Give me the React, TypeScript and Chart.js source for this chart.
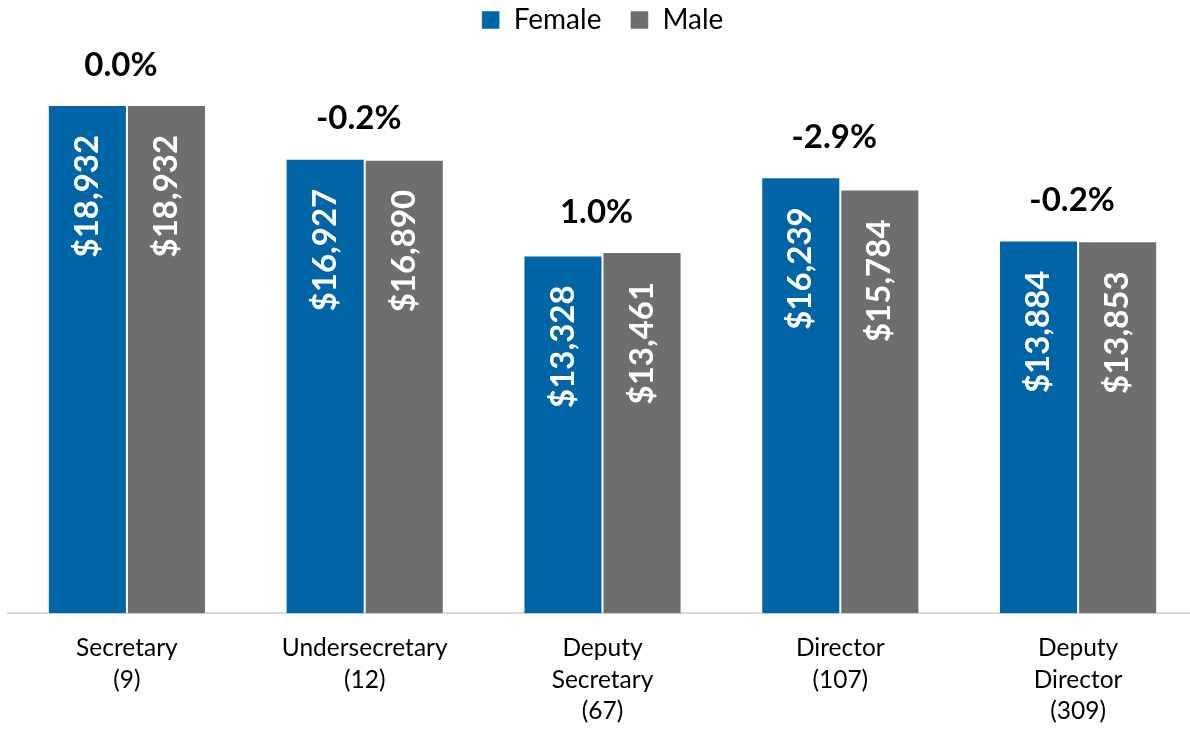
import React, { useEffect, useRef } from "react";
import { Chart, registerables } from "chart.js";

Chart.register(...registerables);

const categories: string[][] = [
  ["Secretary", "(9)"],
  ["Undersecretary", "(12)"],
  ["Deputy", "Secretary", "(67)"],
  ["Director", "(107)"],
  ["Deputy", "Director", "(309)"],
];
const femaleValues: number[] = [18932, 16927, 13328, 16239, 13884];
const maleValues: number[] = [18932, 16890, 13461, 15784, 13853];
const gapLabels: string[] = ["0.0%", "-0.2%", "1.0%", "-2.9%", "-0.2%"];

const FONT = "Lato, 'Open Sans', sans-serif";
const BLUE = "#0065A7";
const GRAY = "#6D6E70";

const labelPlugin = {
  id: "barLabels",
  afterDatasetsDraw(chart: any) {
    const ctx = chart.ctx;
    const m0 = chart.getDatasetMeta(0);
    const m1 = chart.getDatasetMeta(1);
    ctx.save();
    [m0, m1].forEach((meta: any, di: number) => {
      const vals = di === 0 ? femaleValues : maleValues;
      meta.data.forEach((bar: any, i: number) => {
        ctx.save();
        ctx.translate(bar.x, bar.y + 30);
        ctx.rotate(-Math.PI / 2);
        ctx.fillStyle = "#ffffff";
        ctx.font = `bold 33px ${FONT}`;
        ctx.textAlign = "right";
        ctx.textBaseline = "middle";
        ctx.fillText("$" + vals[i].toLocaleString("en-US"), 0, 0);
        ctx.restore();
      });
    });
    const xScale = chart.scales.x;
    gapLabels.forEach((t, i) => {
      const top = Math.min(m0.data[i].y, m1.data[i].y);
      const cx = xScale.getPixelForValue(i);
      ctx.fillStyle = "#000000";
      ctx.font = `bold 33px ${FONT}`;
      ctx.textAlign = "center";
      ctx.textBaseline = "middle";
      ctx.fillText(t, cx - 6, top - 40);
    });
    ctx.restore();
  },
};

export default function App() {
  const ref = useRef<HTMLCanvasElement | null>(null);
  useEffect(() => {
    if (!ref.current) return;
    const chart = new Chart(ref.current, {
      type: "bar",
      data: {
        labels: categories,
        datasets: [
          {
            label: "Female",
            data: femaleValues,
            backgroundColor: BLUE,
            borderColor: "rgba(255,255,255,0.5)",
            borderWidth: 1,
          },
          {
            label: "Male",
            data: maleValues,
            backgroundColor: GRAY,
            borderColor: "rgba(255,255,255,0.5)",
            borderWidth: 1,
          },
        ],
      },
      options: {
        responsive: false,
        animation: false,
        devicePixelRatio: 1,
        layout: { padding: { left: 8, right: 0, top: -23, bottom: 0 } },
        datasets: {
          bar: { categoryPercentage: 0.665, barPercentage: 1 },
        },
        plugins: {
          legend: {
            position: "top",
            labels: {
              boxWidth: 18,
              boxHeight: 18,
              padding: 29,
              color: "#000000",
              font: { family: FONT, size: 28 },
            },
          },
          tooltip: { enabled: false },
        },
        scales: {
          x: {
            grid: { display: false },
            border: { display: true, color: "#D9D9D9", width: 2 },
            ticks: {
              padding: 10.5,
              color: "#000000",
              maxRotation: 0,
              autoSkip: false,
              font: { family: FONT, size: 24.5, lineHeight: 1.3 },
            },
          },
          y: {
            display: false,
            min: 0,
            max: 21200,
          },
        },
      },
      plugins: [labelPlugin],
    });
    return () => chart.destroy();
  }, []);
  return (
    <div
      style={{
        position: "fixed",
        left: 0,
        top: 0,
        width: 1190,
        height: 730,
        overflow: "hidden",
        background: "#ffffff",
      }}
    >
      <canvas
        ref={ref}
        width={1197}
        height={738}
        style={{ position: "absolute", left: 0, top: 0, width: 1197, height: 738 }}
      />
    </div>
  );
}
